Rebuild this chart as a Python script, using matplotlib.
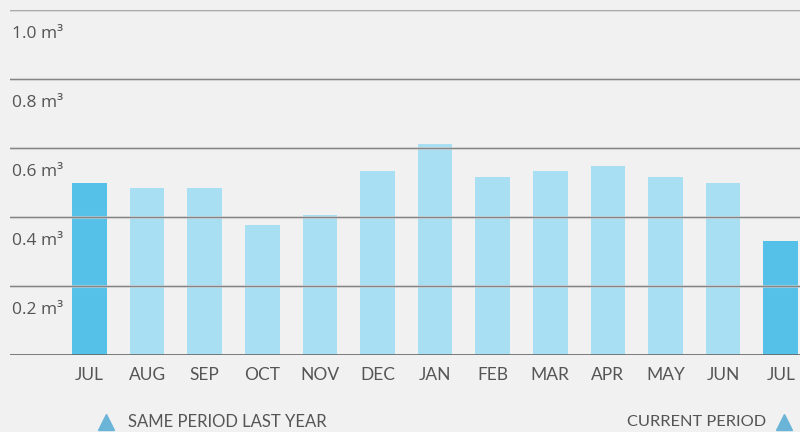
import numpy as np
import matplotlib.pyplot as plt
from matplotlib.transforms import offset_copy

# data
months = ['JUL', 'AUG', 'SEP', 'OCT', 'NOV', 'DEC', 'JAN',
          'FEB', 'MAR', 'APR', 'MAY', 'JUN', 'JUL']
usage = [0.50, 0.485, 0.485, 0.378, 0.407, 0.533, 0.612,
         0.516, 0.533, 0.548, 0.516, 0.499, 0.330]
highlight = [True] + [False] * 11 + [True]
yticks = [0.2, 0.4, 0.6, 0.8, 1.0]

bg = '#f1f1f1'
dark = '#55c1e8'
light = '#a8dff3'

fig = plt.figure(figsize=(8, 4.32), dpi=100, facecolor=bg)
ax = fig.add_axes([10 / 800, 1 - 355 / 432, 790 / 800, 345 / 432])
ax.set_facecolor(bg)

x = np.arange(len(months))
colors = [dark if h else light for h in highlight]
ax.bar(x, usage, width=0.6, color=colors, zorder=1)

# grid lines drawn over the bars
for v in yticks:
    c = '#aaaaaa' if v == 1.0 else '#858585'
    ax.axhline(v, color='#dddddd', lw=2.2, alpha=0.6, zorder=2)
    ax.axhline(v, color=c, lw=1.0, zorder=3)
ax.axhline(0, color='#666666', lw=1.2, zorder=3)

ax.set_xlim(-1.38, 12.335)
ax.set_ylim(0, 1.0)
for s in ax.spines.values():
    s.set_visible(False)
ax.set_yticks([])
ax.set_xticks(x)
ax.set_xticklabels(months, fontsize=12.5, family='Lato', color='#555555')
ax.tick_params(axis='x', length=0, pad=9)

# y labels sit just under each grid line
tr = offset_copy(ax.get_yaxis_transform(), fig=fig, x=0, y=-11.5, units='points')
for v in yticks:
    ax.text(0.003, v, '%.1f m³' % v, transform=tr, va='top', ha='left',
            fontsize=12.5, family='Open Sans', color='#555555')

# legend
tri = '#6ab4d8'
ly = 1 - 422 / 432
fig.add_artist(plt.Line2D([106 / 800], [ly], marker='^', markersize=12,
                          color=tri, transform=fig.transFigure))
fig.add_artist(plt.Line2D([784 / 800], [ly], marker='^', markersize=12,
                          color=tri, transform=fig.transFigure))
fig.text(128 / 800, ly, 'SAME PERIOD LAST YEAR', fontsize=12,
         family='Lato', color='#555555', ha='left', va='center')
fig.text(766 / 800, ly, 'CURRENT PERIOD', fontsize=11.8,
         family='Lato', color='#555555', ha='right', va='center')

fig.savefig('out.png', dpi=100, facecolor=bg)
